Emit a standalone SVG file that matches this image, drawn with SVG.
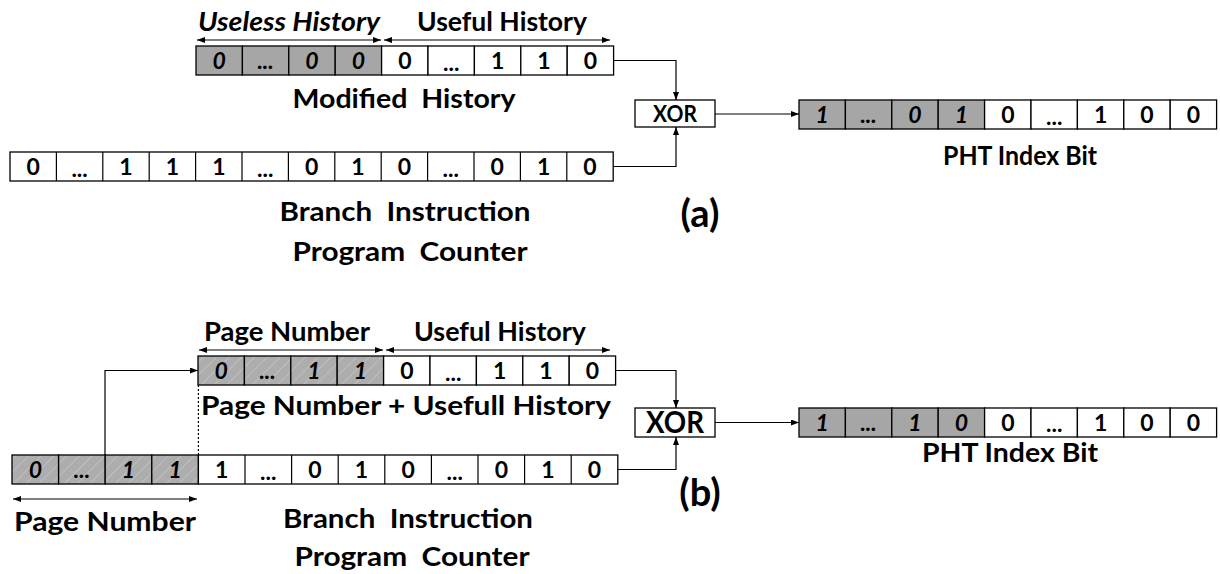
<svg xmlns="http://www.w3.org/2000/svg" width="1220" height="574" viewBox="0 0 1220 574">
<style>
text{font-family:Lato,"Liberation Sans",sans-serif;font-weight:700;fill:#000;text-anchor:middle}
.c{fill:#fff;stroke:#000;stroke-width:1.3}
.g{fill:#a6a6a6;stroke:#000;stroke-width:1.3}
.h{fill:url(#hatch);stroke:#000;stroke-width:1.3}
.d{font-size:23px}
.i{font-size:23px;font-style:italic}
.lbl{font-size:27px}
.big{font-size:38px}
.ln{fill:none;stroke:#000;stroke-width:1.2}
</style>
<defs>
<marker id="ah" markerUnits="userSpaceOnUse" markerWidth="8" markerHeight="6" refX="8" refY="3" orient="auto-start-reverse"><path d="M0,0 L8,3 L0,6 z" fill="#000"/></marker>
<pattern id="hatch" patternUnits="userSpaceOnUse" width="9" height="9" patternTransform="rotate(45)"><rect width="9" height="9" fill="#adadad"/><line x1="0" y1="0" x2="0" y2="9" stroke="#c6c6c6" stroke-width="1.5"/></pattern>
</defs>

<g id="labels-a">
<text x="289" y="31" class="lbl" font-style="italic" textLength="182" lengthAdjust="spacingAndGlyphs">Useless History</text>
<text x="502" y="31" class="lbl" textLength="170" lengthAdjust="spacingAndGlyphs">Useful History</text>
<text x="404" y="108" class="lbl" textLength="223" lengthAdjust="spacingAndGlyphs" xml:space="preserve">Modified  History</text>
<text x="1020" y="165" class="lbl" textLength="154" lengthAdjust="spacingAndGlyphs">PHT Index Bit</text>
<text x="405" y="221" class="lbl" textLength="251" lengthAdjust="spacingAndGlyphs" xml:space="preserve">Branch  Instruction</text>
<text x="410" y="261" class="lbl" textLength="235" lengthAdjust="spacingAndGlyphs" xml:space="preserve">Program  Counter</text>
<text x="700" y="227" class="big">(a)</text>
</g>

<g id="modified-history">
<rect class="g" x="196" y="46" width="46.4" height="29"/><rect class="g" x="242.4" y="46" width="46.4" height="29"/><rect class="g" x="288.8" y="46" width="46.4" height="29"/><rect class="g" x="335.2" y="46" width="46.4" height="29"/>
<rect class="c" x="381.6" y="46" width="46.4" height="29"/><rect class="c" x="428" y="46" width="46.4" height="29"/><rect class="c" x="474.4" y="46" width="46.4" height="29"/><rect class="c" x="520.8" y="46" width="46.4" height="29"/><rect class="c" x="567.2" y="46" width="46.4" height="29"/>
<text class="i" x="219.2" y="68.5">0</text><text class="i" x="265.6" y="68.5">...</text><text class="i" x="312" y="68.5">0</text><text class="i" x="358.4" y="68.5">0</text>
<text class="d" x="404.8" y="68.5">0</text><text class="d" x="451.2" y="71">...</text><text class="d" x="497.6" y="68.5">1</text><text class="d" x="544" y="68.5">1</text><text class="d" x="590.4" y="68.5">0</text>
</g>

<g id="pc-a">
<rect class="c" x="10" y="152" width="603.2" height="29"/>
<path class="ln" d="M56.4,152V181M102.8,152V181M149.2,152V181M195.6,152V181M242,152V181M288.4,152V181M334.8,152V181M381.2,152V181M427.6,152V181M474,152V181M520.4,152V181M566.8,152V181"/>
<text class="d" x="33.2" y="174.5">0</text><text class="d" x="79.6" y="177">...</text><text class="d" x="126" y="174.5">1</text><text class="d" x="172.4" y="174.5">1</text><text class="d" x="218.8" y="174.5">1</text><text class="d" x="265.2" y="177">...</text><text class="d" x="311.6" y="174.5">0</text><text class="d" x="358" y="174.5">1</text><text class="d" x="404.4" y="174.5">0</text><text class="d" x="450.8" y="177">...</text><text class="d" x="497.2" y="174.5">0</text><text class="d" x="543.6" y="174.5">1</text><text class="d" x="590" y="174.5">0</text>
</g>

<g id="xor-a">
<rect class="c" x="635" y="100" width="80" height="27"/>
<text x="675" y="122" font-size="23" textLength="44" lengthAdjust="spacingAndGlyphs">XOR</text>
</g>

<g id="pht-a">
<rect class="g" x="799" y="100" width="46.4" height="29"/><rect class="g" x="845.4" y="100" width="46.4" height="29"/><rect class="g" x="891.8" y="100" width="46.4" height="29"/><rect class="g" x="938.2" y="100" width="46.4" height="29"/>
<rect class="c" x="984.6" y="100" width="46.4" height="29"/><rect class="c" x="1031" y="100" width="46.4" height="29"/><rect class="c" x="1077.4" y="100" width="46.4" height="29"/><rect class="c" x="1123.8" y="100" width="46.4" height="29"/><rect class="c" x="1170.2" y="100" width="46.4" height="29"/>
<text class="i" x="822.2" y="122.5">1</text><text class="i" x="868.6" y="122.5">...</text><text class="i" x="915" y="122.5">0</text><text class="i" x="961.4" y="122.5">1</text>
<text class="d" x="1007.8" y="122.5">0</text><text class="d" x="1054.2" y="125">...</text><text class="d" x="1100.6" y="122.5">1</text><text class="d" x="1147" y="122.5">0</text><text class="d" x="1193.4" y="122.5">0</text>
</g>

<g id="labels-b">
<text x="287" y="341" class="lbl" textLength="166" lengthAdjust="spacingAndGlyphs">Page Number</text>
<text x="500" y="341" class="lbl" textLength="172" lengthAdjust="spacingAndGlyphs">Useful History</text>
<text x="406" y="415" class="lbl" textLength="410" lengthAdjust="spacingAndGlyphs">Page Number + Usefull History</text>
<text x="1010" y="462" class="lbl" textLength="176" lengthAdjust="spacingAndGlyphs">PHT Index Bit</text>
<text x="105" y="531" class="lbl" textLength="182" lengthAdjust="spacingAndGlyphs">Page Number</text>
<text x="408" y="528" class="lbl" textLength="250" lengthAdjust="spacingAndGlyphs" xml:space="preserve">Branch  Instruction</text>
<text x="412" y="566" class="lbl" textLength="235" lengthAdjust="spacingAndGlyphs" xml:space="preserve">Program  Counter</text>
<text x="700" y="506" class="big">(b)</text>
</g>

<g id="page-useful-history">
<rect class="h" x="198" y="356" width="46.4" height="29"/><rect class="h" x="244.4" y="356" width="46.4" height="29"/><rect class="h" x="290.8" y="356" width="46.4" height="29"/><rect class="h" x="337.2" y="356" width="46.4" height="29"/>
<rect class="c" x="383.6" y="356" width="46.4" height="29"/><rect class="c" x="430" y="356" width="46.4" height="29"/><rect class="c" x="476.4" y="356" width="46.4" height="29"/><rect class="c" x="522.8" y="356" width="46.4" height="29"/><rect class="c" x="569.2" y="356" width="46.4" height="29"/>
<text class="i" x="221.2" y="378.5">0</text><text class="i" x="267.6" y="378.5">...</text><text class="i" x="314" y="378.5">1</text><text class="i" x="360.4" y="378.5">1</text>
<text class="d" x="406.8" y="378.5">0</text><text class="d" x="453.2" y="381">...</text><text class="d" x="499.6" y="378.5">1</text><text class="d" x="546" y="378.5">1</text><text class="d" x="592.4" y="378.5">0</text>
</g>

<g id="pc-b">
<rect class="h" x="12" y="455" width="46.6" height="29"/><rect class="h" x="58.6" y="455" width="46.6" height="29"/><rect class="h" x="105.2" y="455" width="46.6" height="29"/><rect class="h" x="151.8" y="455" width="46.6" height="29"/>
<rect class="c" x="198.4" y="455" width="419.4" height="29"/>
<path class="ln" d="M245,455V484M291.6,455V484M338.2,455V484M384.8,455V484M431.4,455V484M478,455V484M524.6,455V484M571.2,455V484"/>
<text class="i" x="35.3" y="477.5">0</text><text class="i" x="81.9" y="477.5">...</text><text class="i" x="128.5" y="477.5">1</text><text class="i" x="175.1" y="477.5">1</text>
<text class="d" x="221.7" y="477.5">1</text><text class="d" x="268.3" y="480">...</text><text class="d" x="314.9" y="477.5">0</text><text class="d" x="361.5" y="477.5">1</text><text class="d" x="408.1" y="477.5">0</text><text class="d" x="454.7" y="480">...</text><text class="d" x="501.3" y="477.5">0</text><text class="d" x="547.9" y="477.5">1</text><text class="d" x="594.5" y="477.5">0</text>
</g>

<g id="xor-b">
<rect class="c" x="635" y="408" width="80" height="29"/>
<text x="675" y="433" font-size="31" textLength="58" lengthAdjust="spacingAndGlyphs">XOR</text>
</g>

<g id="pht-b">
<rect class="g" x="799" y="408" width="46.4" height="29"/><rect class="g" x="845.4" y="408" width="46.4" height="29"/><rect class="g" x="891.8" y="408" width="46.4" height="29"/><rect class="g" x="938.2" y="408" width="46.4" height="29"/>
<rect class="c" x="984.6" y="408" width="46.4" height="29"/><rect class="c" x="1031" y="408" width="46.4" height="29"/><rect class="c" x="1077.4" y="408" width="46.4" height="29"/><rect class="c" x="1123.8" y="408" width="46.4" height="29"/><rect class="c" x="1170.2" y="408" width="46.4" height="29"/>
<text class="i" x="822.2" y="430.5">1</text><text class="i" x="868.6" y="430.5">...</text><text class="i" x="915" y="430.5">1</text><text class="i" x="961.4" y="430.5">0</text>
<text class="d" x="1007.8" y="430.5">0</text><text class="d" x="1054.2" y="432">...</text><text class="d" x="1100.6" y="430.5">1</text><text class="d" x="1147" y="430.5">0</text><text class="d" x="1193.4" y="430.5">0</text>
</g>

<g id="connectors">
<line class="ln" x1="197" y1="40" x2="381" y2="40" marker-start="url(#ah)" marker-end="url(#ah)"/>
<line class="ln" x1="384" y1="40" x2="610" y2="40" marker-start="url(#ah)" marker-end="url(#ah)"/>
<path class="ln" d="M613.6,60.5H676V100" marker-end="url(#ah)"/>
<path class="ln" d="M613.2,166.5H676V127" marker-end="url(#ah)"/>
<path class="ln" d="M715,114H799" marker-end="url(#ah)"/>
<line class="ln" x1="199" y1="350" x2="383" y2="350" marker-start="url(#ah)" marker-end="url(#ah)"/>
<line class="ln" x1="386" y1="350" x2="610" y2="350" marker-start="url(#ah)" marker-end="url(#ah)"/>
<path class="ln" d="M615.6,370.5H676V408" marker-end="url(#ah)"/>
<path class="ln" d="M617.8,469.5H676V437" marker-end="url(#ah)"/>
<path class="ln" d="M715,422.5H799" marker-end="url(#ah)"/>
<path class="ln" d="M105,455V370.5H198" marker-end="url(#ah)"/>
<path class="ln" d="M198.4,385V455" stroke-dasharray="2,2"/>
<line class="ln" x1="13" y1="499" x2="197" y2="499" marker-start="url(#ah)" marker-end="url(#ah)"/>
</g>
</svg>
